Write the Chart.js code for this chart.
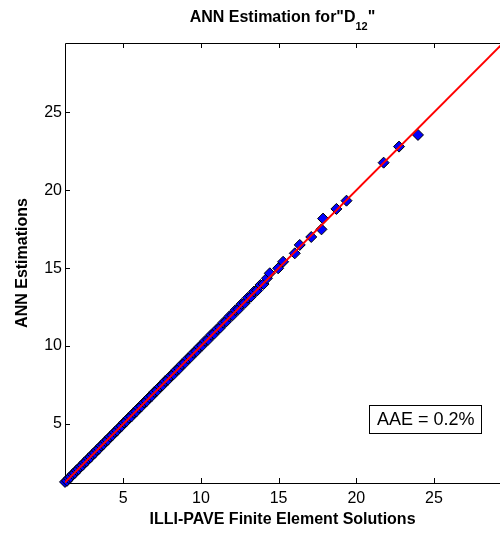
<!DOCTYPE html>
<html>
<head>
<meta charset="utf-8">
<title>ANN Estimation for D12</title>
<script src="https://cdn.jsdelivr.net/npm/chart.js@4.4.1/dist/chart.umd.min.js"></script>
<style>
  html, body { margin: 0; padding: 0; background: #fff; overflow: hidden; }
  canvas { display: block; }
</style>
</head>
<body>
<canvas id="chart" width="500" height="533"></canvas>
<script>
// ILLI-PAVE finite element solutions (x) against ANN estimations (y)
const feSolutions = [
  1.25, 1.38, 1.5, 1.62, 1.75, 1.88, 2.0, 2.12, 2.25, 2.38, 2.5, 2.63, 2.76, 2.9,
  3.03, 3.17, 3.3, 3.44, 3.58, 3.72, 3.86, 4.0, 4.15, 4.3, 4.45, 4.6, 4.75, 4.9,
  5.05, 5.2, 5.36, 5.52, 5.68, 5.84, 6.0, 6.17, 6.34, 6.5, 6.67, 6.84, 7.0, 7.18,
  7.36, 7.53, 7.7, 7.88, 8.06, 8.24, 8.42, 8.6, 8.78, 8.97, 9.15, 9.34, 9.52, 9.71,
  9.9, 10.08, 10.27, 10.46, 10.66, 10.85, 11.05, 11.24, 11.44, 11.63, 11.83, 12.03,
  12.22, 12.42, 12.62, 12.82, 13.02, 13.22, 13.42, 13.62, 13.83, 14.03, 14.25,
  14.43, 14.97, 15.29, 16.04, 16.36, 17.1, 17.76, 17.86, 18.72, 19.37,
  21.76, 22.75, 23.97
];
const annEstimates = [
  1.28, 1.35, 1.52, 1.6, 1.78, 1.85, 2.03, 2.1, 2.27, 2.35, 2.53, 2.6, 2.79, 2.87,
  3.06, 3.14, 3.33, 3.41, 3.61, 3.69, 3.89, 3.97, 4.18, 4.27, 4.48, 4.57, 4.78, 4.87,
  5.09, 5.17, 5.4, 5.48, 5.72, 5.8, 6.04, 6.13, 6.38, 6.46, 6.71, 6.8, 7.05, 7.14,
  7.4, 7.49, 7.75, 7.84, 8.1, 8.19, 8.47, 8.55, 8.83, 8.92, 9.2, 9.29, 9.57, 9.66,
  9.95, 10.03, 10.33, 10.4, 10.72, 10.79, 11.1, 11.18, 11.5, 11.58, 11.9, 11.97,
  12.3, 12.36, 12.7, 12.76, 13.1, 13.17, 13.5, 13.57, 13.92, 13.98, 14.35,
  14.67, 14.99, 15.41, 15.95, 16.49, 17.0, 17.49, 18.18, 18.8, 19.33,
  21.77, 22.8, 23.55
];
const unityLine = [1.2, 29.5];
const xTickValues = [5, 10, 15, 20, 25];
const yTickValues = [5, 10, 15, 20, 25];
const xLimits = [1.25, 29.25];
const yLimits = [1.21, 29.45];
const chartTitle = 'ANN Estimation for"D';
const titleSub = '12';
const titleEnd = '"';
const aaeLabel = 'AAE = 0.2%';

const FONT = "'Liberation Sans', Arial, Helvetica, sans-serif";

const matlabFrame = {
  id: 'matlabFrame',
  beforeDatasetsDraw(chart) {
    const { ctx, chartArea: a, scales: { x, y } } = chart;
    ctx.save();
    ctx.strokeStyle = '#000';
    ctx.lineWidth = 1;
    ctx.beginPath();
    ctx.moveTo(a.left + 0.5, a.top + 0.5);
    ctx.lineTo(a.left + 0.5, a.bottom + 0.5);
    ctx.lineTo(a.right + 1, a.bottom + 0.5);
    ctx.moveTo(a.left + 0.5, a.top + 0.5);
    ctx.lineTo(a.right + 1, a.top + 0.5);
    // inward tick marks
    x.ticks.forEach(t => {
      const px = Math.round(x.getPixelForValue(t.value)) + 0.5;
      ctx.moveTo(px, a.bottom);
      ctx.lineTo(px, a.bottom - 5);
      ctx.moveTo(px, a.top);
      ctx.lineTo(px, a.top + 5);
    });
    y.ticks.forEach(t => {
      const py = Math.round(y.getPixelForValue(t.value)) + 0.5;
      ctx.moveTo(a.left, py);
      ctx.lineTo(a.left + 5, py);
    });
    ctx.stroke();
    ctx.restore();
  },
  afterDraw(chart) {
    const { ctx, chartArea: a } = chart;
    ctx.save();
    // title with subscript
    ctx.fillStyle = '#000';
    ctx.textBaseline = 'alphabetic';
    ctx.font = 'bold 16px ' + FONT;
    const w1 = ctx.measureText(chartTitle).width;
    const w3 = ctx.measureText(titleEnd).width;
    ctx.font = 'bold 11px ' + FONT;
    const w2 = ctx.measureText(titleSub).width;
    let tx = (a.left + a.right) / 2 - (w1 + w2 + w3) / 2;
    ctx.font = 'bold 16px ' + FONT;
    ctx.fillText(chartTitle, tx, 22);
    ctx.font = 'bold 11px ' + FONT;
    ctx.fillText(titleSub, tx + w1, 30);
    ctx.font = 'bold 16px ' + FONT;
    ctx.fillText(titleEnd, tx + w1 + w2, 22);

    // AAE text box
    const bx = a.right - 131, by = a.bottom - 78;
    ctx.strokeStyle = '#000';
    ctx.lineWidth = 1;
    ctx.strokeRect(bx + 0.5, by + 0.5, 112, 28);
    ctx.font = '18px ' + FONT;
    ctx.fillText(aaeLabel, bx + 8, by + 20);
    ctx.restore();
  }
};

const tickFont = { family: FONT, size: 16 };
const titleFont = { family: FONT, size: 16, weight: 'bold' };

new Chart(document.getElementById('chart'), {
  type: 'scatter',
  data: {
    datasets: [{
      type: 'line',
      data: unityLine.map(v => ({ x: v, y: v })),
      borderColor: '#ff0000',
      borderWidth: 2,
      pointRadius: 0,
      order: 0
    }, {
      data: feSolutions.map((v, i) => ({ x: v, y: annEstimates[i] })),
      pointStyle: 'rectRot',
      pointRadius: 5.5,
      backgroundColor: '#0000ff',
      borderColor: '#000000',
      borderWidth: 1,
      clip: false,
      order: 1
    }]
  },
  options: {
    responsive: false,
    animation: false,
    layout: { autoPadding: false, padding: { top: 43, right: 0, bottom: 0, left: 0 } },
    plugins: { legend: { display: false }, tooltip: { enabled: false } },
    scales: {
      x: {
        type: 'linear',
        min: xLimits[0],
        max: xLimits[1],
        grid: { display: false, drawTicks: false },
        border: { display: false },
        afterBuildTicks: s => { s.ticks = xTickValues.map(v => ({ value: v })); },
        afterFit: s => { s.height = 50; s.paddingLeft = 0; s.paddingRight = 0; },
        ticks: { color: '#000', font: tickFont, padding: 6, maxRotation: 0 },
        title: {
          display: true,
          text: 'ILLI-PAVE Finite Element Solutions',
          color: '#000',
          font: titleFont,
          padding: { top: 0, bottom: 4 }
        }
      },
      y: {
        type: 'linear',
        min: yLimits[0],
        max: yLimits[1],
        grid: { display: false, drawTicks: false },
        border: { display: false },
        afterBuildTicks: s => { s.ticks = yTickValues.map(v => ({ value: v })); },
        afterFit: s => { s.width = 65; s.paddingTop = 0; s.paddingBottom = 0; },
        ticks: { color: '#000', font: tickFont, padding: 3 },
        title: {
          display: true,
          text: 'ANN Estimations',
          color: '#000',
          font: titleFont,
          padding: { top: 13, bottom: 0 }
        }
      }
    }
  },
  plugins: [matlabFrame]
});
</script>
</body>
</html>
